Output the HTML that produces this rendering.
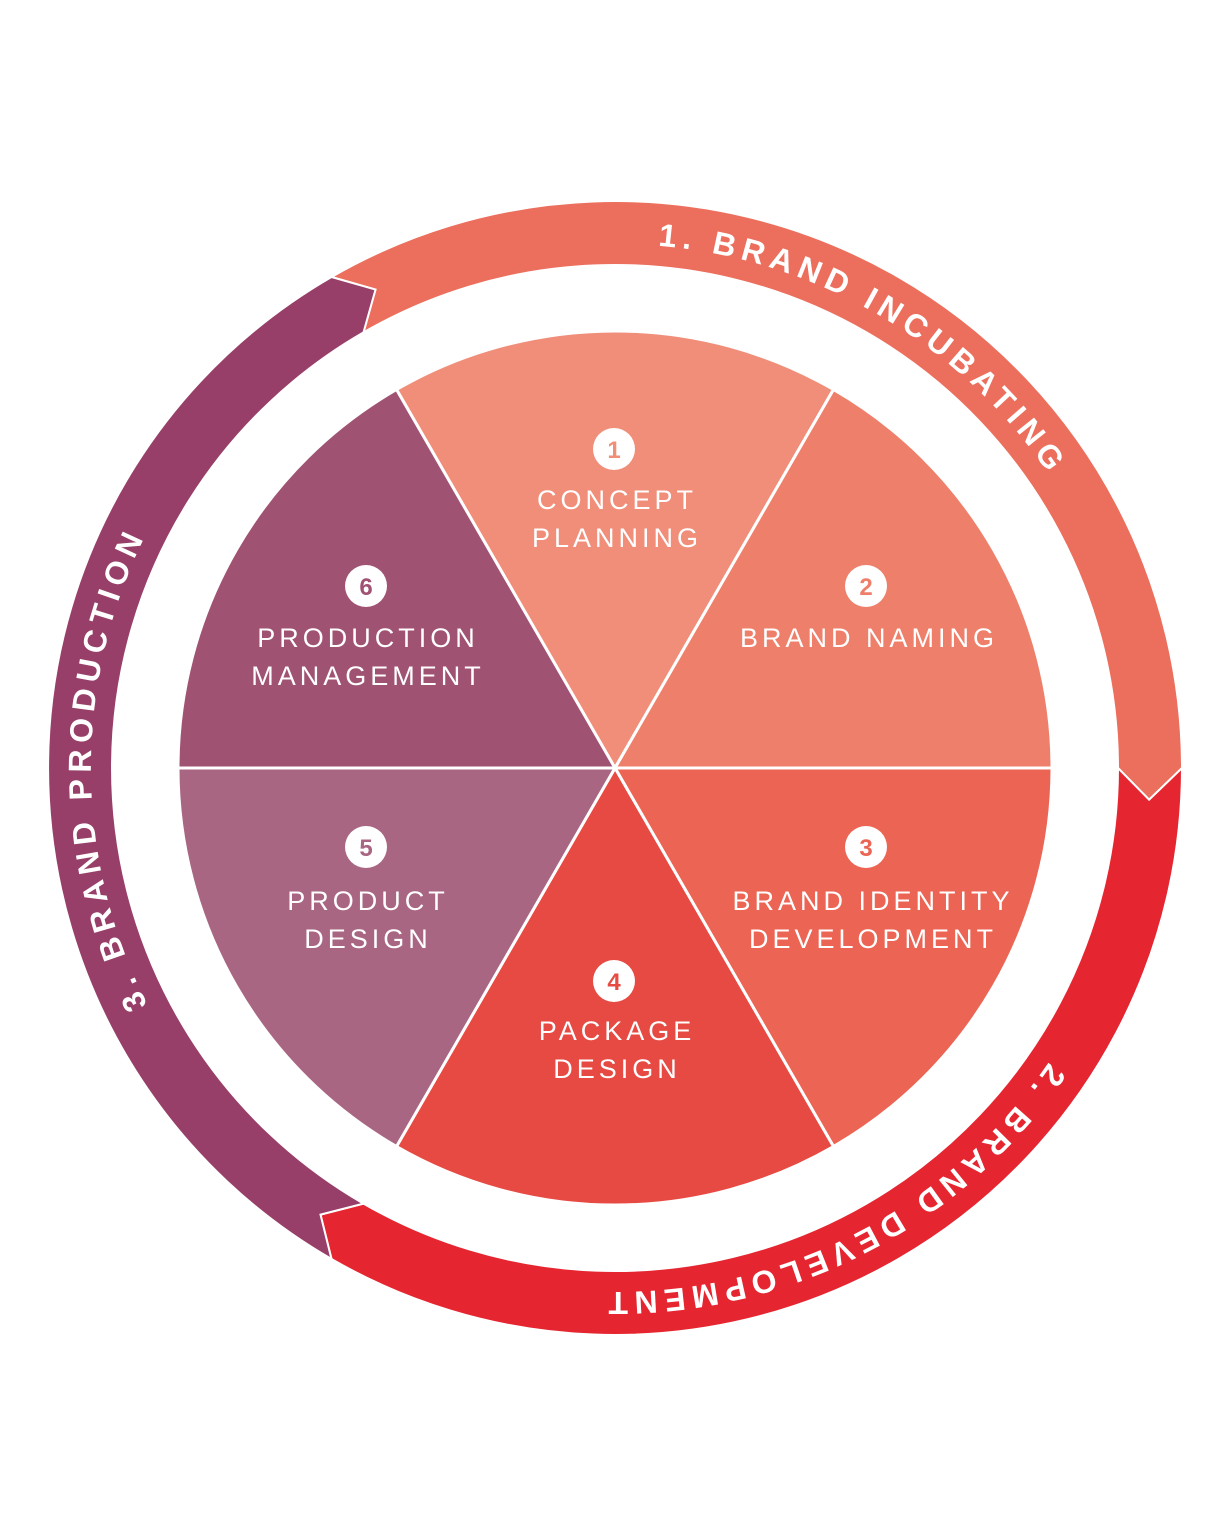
<!DOCTYPE html>
<html><head><meta charset="utf-8"><style>
html,body{margin:0;padding:0;background:#fff;}
svg{display:block;}
.t{font-family:"Liberation Sans",sans-serif;fill:#fff;font-size:27px;letter-spacing:4px;text-anchor:middle;}
.n{font-family:"Liberation Sans",sans-serif;font-weight:bold;font-size:24px;text-anchor:middle;}
.r{font-family:"Liberation Sans",sans-serif;font-weight:bold;fill:#fff;font-size:32px;letter-spacing:6px;}
</style></head><body>
<svg width="1230" height="1538" viewBox="0 0 1230 1538" xmlns="http://www.w3.org/2000/svg">
<defs>
<path id="circ" d="M 1139,768 A 524 524 0 1 1 91,768 A 524 524 0 1 1 1139,768"/>
</defs>
<path d="M331.5,277 A567 567 0 0 1 1182,768 L1149.1,799.7 L1118,768 A503 503 0 0 0 363.5,332.4 L375.5,289.6 Z" fill="#EC6E5C" stroke="#fff" stroke-width="2"/>
<path d="M1182,768 A567 567 0 0 1 331.5,1259 L320.5,1214.6 L363.5,1203.6 A503 503 0 0 0 1118,768 L1149.1,799.7 Z" fill="#E52530" stroke="#fff" stroke-width="2"/>
<path d="M331.5,1259 A567 567 0 0 1 331.5,277 L375.5,289.6 L363.5,332.4 A503 503 0 0 0 363.5,1203.6 L320.5,1214.6 Z" fill="#973F68" stroke="#fff" stroke-width="2"/>
<text class="r"><textPath href="#circ" startOffset="2512">1. BRAND INCUBATING</textPath></text>
<text class="r"><textPath href="#circ" startOffset="312">2. BRAND DEVELOPMENT</textPath></text>
<text class="r"><textPath href="#circ" startOffset="1400">3. BRAND PRODUCTION</textPath></text>
<g stroke="#fff" stroke-width="3" stroke-linejoin="round">
<path d="M615,768 L396.5,389.5 A437 437 0 0 1 833.5,389.5 Z" fill="#F08E79"/>
<path d="M615,768 L833.5,389.5 A437 437 0 0 1 1052,768 Z" fill="#EE806B"/>
<path d="M615,768 L1052,768 A437 437 0 0 1 833.5,1146.5 Z" fill="#EC6453"/>
<path d="M615,768 L833.5,1146.5 A437 437 0 0 1 396.5,1146.5 Z" fill="#E64A43"/>
<path d="M615,768 L396.5,1146.5 A437 437 0 0 1 178,768 Z" fill="#A96682"/>
<path d="M615,768 L178,768 A437 437 0 0 1 396.5,389.5 Z" fill="#A05272"/>
</g>
<g fill="#fff">
<circle cx="614" cy="449" r="21"/><circle cx="866" cy="586" r="21"/><circle cx="866" cy="847" r="21"/>
<circle cx="614" cy="981" r="21"/><circle cx="366" cy="847" r="21"/><circle cx="366" cy="586" r="21"/>
</g>
<text class="n" x="614" y="458" fill="#F08E79">1</text>
<text class="n" x="866" y="595" fill="#EE806B">2</text>
<text class="n" x="866" y="856" fill="#EC6453">3</text>
<text class="n" x="614" y="990" fill="#E64A43">4</text>
<text class="n" x="366" y="856" fill="#A96682">5</text>
<text class="n" x="366" y="595" fill="#A05272">6</text>
<text class="t" x="617" y="509">CONCEPT</text>
<text class="t" x="617" y="547">PLANNING</text>
<text class="t" x="869" y="647">BRAND NAMING</text>
<text class="t" x="873" y="910">BRAND IDENTITY</text>
<text class="t" x="873" y="948">DEVELOPMENT</text>
<text class="t" x="617" y="1040">PACKAGE</text>
<text class="t" x="617" y="1078">DESIGN</text>
<text class="t" x="368" y="910">PRODUCT</text>
<text class="t" x="368" y="948">DESIGN</text>
<text class="t" x="368" y="647">PRODUCTION</text>
<text class="t" x="368" y="685">MANAGEMENT</text>
</svg>
</body></html>
